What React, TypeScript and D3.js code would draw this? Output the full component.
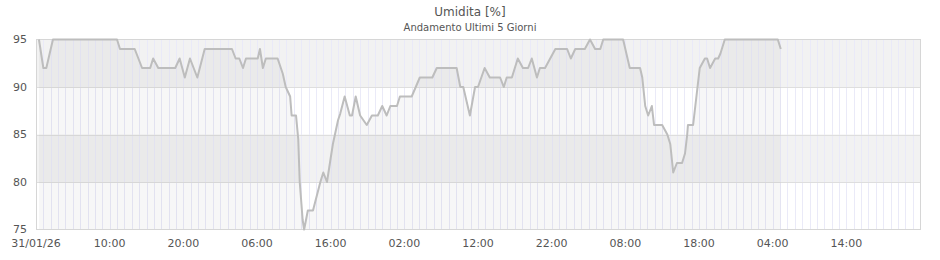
import React from "react";
import * as d3 from "d3";

const title = "Umidita [%]";
const subtitle = "Andamento Ultimi 5 Giorni";

// hours since 31/01/26 00:00
const hours = [
  0.4, 1.0, 1.4, 2.3, 11.0, 11.4, 13.4, 14.4, 15.5, 15.9, 16.6, 18.9, 19.5, 20.2, 20.9, 21.9,
  22.9, 26.6, 27.1, 27.6, 28.1, 28.5, 30.1, 30.4, 30.8, 31.2, 32.8, 33.5, 33.9, 34.5, 34.7,
  35.3, 35.6, 35.8, 36.2, 36.4, 36.9, 37.6, 38.6, 39.0, 39.5, 39.9, 40.3, 41.0, 41.3, 41.9,
  42.6, 42.9, 43.4, 44.0, 44.9, 45.6, 46.4, 47.0, 47.6, 48.1, 49.0, 49.4, 51.0, 52.1, 53.8,
  54.4, 57.1, 57.6, 58.0, 58.9, 59.6, 60.0, 60.9, 61.6, 63.0, 63.5, 63.9, 64.6, 65.4, 66.1,
  66.8, 67.3, 68.0, 68.4, 69.1, 69.8, 70.5, 72.1, 72.6, 73.2, 74.5, 75.2, 75.9, 76.6, 77.0,
  79.7, 80.6, 82.0, 82.3, 82.7, 83.1, 83.6, 83.9, 85.0, 85.7, 86.1, 86.3, 86.5, 87.0, 87.7,
  88.1, 88.4, 88.5, 89.2, 89.5, 90.1, 90.8, 91.1, 91.5, 92.2, 92.6, 92.9, 93.5, 100.7, 101.1,
];
const humidity = [
  95, 92, 92, 95, 95, 94, 94, 92, 92, 93, 92, 92, 93, 91, 93, 91,
  94, 94, 93, 93, 92, 93, 93, 94, 92, 93, 93, 91.4, 90, 89, 87,
  87, 84.5, 80, 76, 75, 77, 77, 80, 81, 80, 82, 84, 86.5, 87.2, 89,
  87, 87, 89, 87, 86, 87, 87, 88, 87, 88, 88, 89, 89, 91, 91,
  92, 92, 90, 90, 87, 90, 90, 92, 91, 91, 90, 91, 91, 93, 92,
  92, 93, 91, 92, 92, 93, 94, 94, 93, 94, 94, 95, 94, 94, 95,
  95, 92, 92, 91, 88, 87, 88, 86, 86, 85, 84, 82.5, 81, 82, 82,
  83, 85, 86, 86, 88, 92, 93, 93, 92, 93, 93, 93.5, 95, 95, 94,
];
const yTicks = [75, 80, 85, 90, 95];
const bands = [
  [90, 95],
  [80, 85],
];

const W = 940;
const H = 260;
const M = { left: 36, right: 920, top: 39.5, bottom: 229.5 };
const start = new Date(2026, 0, 31, 0, 0);
const end = new Date(2026, 1, 5, 0, 0);

export default function App() {
  const x = d3.scaleTime().domain([start, end]).range([M.left, M.right]);
  const y = d3.scaleLinear().domain([75, 95]).range([M.bottom, M.top]);

  const pts = hours.map((h, i) => ({ t: d3.timeMinute.offset(start, Math.round(h * 60)), v: humidity[i] }));
  const line = d3.line<any>().x((d) => x(d.t)).y((d) => y(d.v));
  const area = d3.area<any>().x((d) => x(d.t)).y0(y(75)).y1((d) => y(d.v));

  const hourTicks = d3.timeHour.range(d3.timeHour.offset(start, 1), end);
  const labelTicks = d3.range(0, 120, 10).map((h) => d3.timeHour.offset(start, h));
  const fmtDate = d3.timeFormat("%d/%m/%y");
  const fmtHour = d3.timeFormat("%H:%M");
  const fmt = (d: Date) => (d.getHours() === 0 && d.getMinutes() === 0 ? fmtDate(d) : fmtHour(d));

  const font = "DejaVu Sans, sans-serif";
  return (
    <svg width={W} height={H} style={{ position: "absolute", left: 0, top: 0, display: "block" }} fontFamily={font}>
      <rect x={0} y={0} width={W} height={H} fill="#fff" />
      <text x={470} y={16} textAnchor="middle" fontSize={12} fill="#555">{title}</text>
      <text x={470} y={31} textAnchor="middle" fontSize={10} fill="#555">{subtitle}</text>
      {bands.map(([a, b], i) => (
        <rect key={i} x={M.left} width={M.right - M.left} y={y(b)} height={y(a) - y(b)} fill="#f2f2f2" />
      ))}
      {hourTicks.map((t, i) => (
        <line key={i} x1={Math.round(x(t)) + 0.5} x2={Math.round(x(t)) + 0.5} y1={M.top} y2={M.bottom} stroke="#eaeaf8" strokeWidth={1} />
      ))}
      {yTicks.slice(1, -1).map((v) => (
        <line key={v} x1={M.left} x2={M.right} y1={Math.round(y(v)) + 0.5} y2={Math.round(y(v)) + 0.5} stroke="#dedede" />
      ))}
      <path d={area(pts) || ""} fill="#000" fillOpacity={0.03} />
      <rect x={M.left + 0.5} y={M.top} width={M.right - M.left} height={M.bottom - M.top} fill="none" stroke="#d6d6d6" />
      <path d={line(pts) || ""} fill="none" stroke="#bdbdbd" strokeWidth={2} strokeLinejoin="round" />
      {yTicks.map((v) => (
        <text key={v} x={27} y={y(v)} dy="0.35em" textAnchor="end" fontSize={11} fill="#555">{v}</text>
      ))}
      {labelTicks.map((t, i) => (
        <text key={i} x={x(t)} y={247} textAnchor="middle" fontSize={11} fill="#555">{fmt(t)}</text>
      ))}
    </svg>
  );
}
